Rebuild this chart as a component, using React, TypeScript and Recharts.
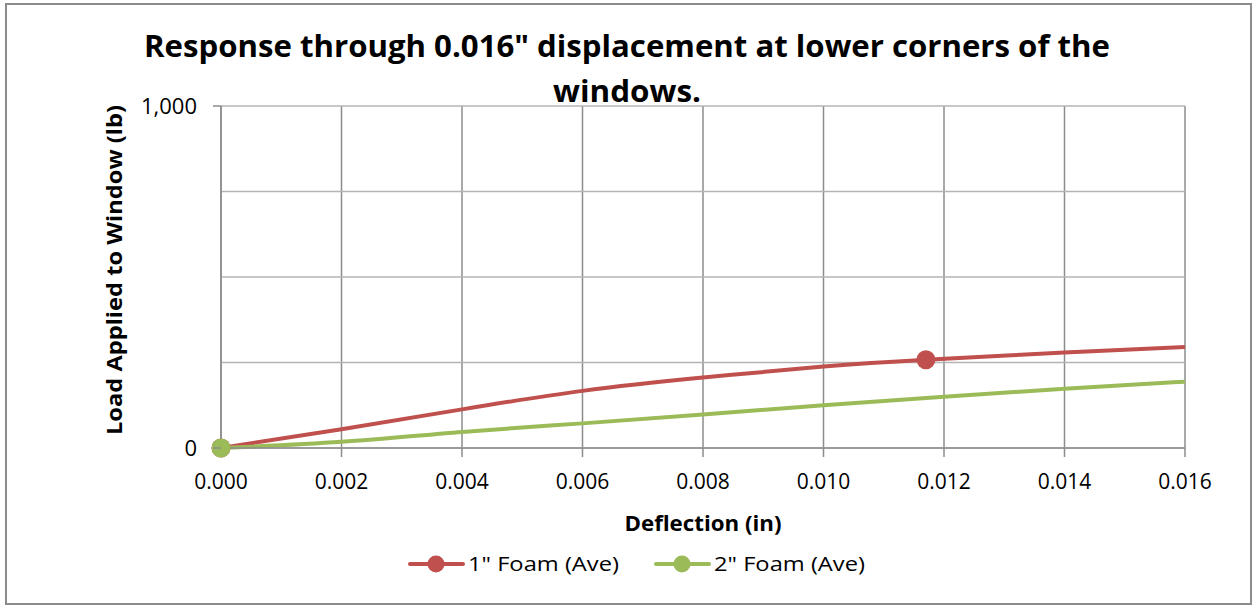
import React from "react";
import { CartesianGrid, Legend, Line, LineChart, XAxis, YAxis } from "recharts";

// deflection (in) values
const foam1X = [0, 0.002, 0.004, 0.006, 0.008, 0.01, 0.0117, 0.014, 0.016];
const foam1Load = [0, 55, 113, 167, 206, 238, 258, 279, 295];
const foam1Markers = [0, 0.0117];

const foam2X = [0, 0.002, 0.004, 0.006, 0.008, 0.01, 0.012, 0.014, 0.016];
const foam2Load = [0, 18, 47, 72, 98, 125, 150, 173, 194];
const foam2Markers = [0];

const xTicks = [0, 0.002, 0.004, 0.006, 0.008, 0.01, 0.012, 0.014, 0.016];
const yTicks = [0, 250, 500, 750, 1000];
const yLabelled = [0, 1000];

const RED = "#C0504D";
const GREEN = "#9BBB59";
const FONT = "'Open Sans', 'DejaVu Sans', sans-serif";

const build = (xs: number[], ys: number[], markers: number[]) =>
  xs.map((x, i) => ({ x, y: ys[i], marker: markers.includes(x) }));

const series = [
  { name: '1" Foam (Ave)', color: RED, data: build(foam1X, foam1Load, foam1Markers), textLen: 151 },
  { name: '2" Foam (Ave)', color: GREEN, data: build(foam2X, foam2Load, foam2Markers), textLen: 151 },
];

function markerDot(color: string) {
  return (props: any) => {
    const { cx, cy, payload, index } = props;
    if (!payload || !payload.marker) return <g key={`d-${index}`} />;
    return <circle key={`d-${index}`} cx={cx} cy={cy} r={9.5} fill={color} stroke="none" />;
  };
}

function YTick(props: any) {
  const { x, y, payload } = props;
  if (!yLabelled.includes(payload.value)) return <g />;
  return (
    <g>
      <line x1={x} x2={x + 8} y1={y} y2={y} stroke="#8c8c8c" strokeWidth={1.5} />
      <text x={x - 16} y={y} dy="0.35em" textAnchor="end" fontFamily={FONT} fontSize={22} fill="#000">
        {payload.value.toLocaleString("en-US")}
      </text>
    </g>
  );
}

function LegendBox() {
  return (
    <svg width={470} height={30} style={{ display: "block", margin: "0 auto" }}>
      {series.map((s, i) => {
        const x0 = i * 246;
        return (
          <g key={s.name}>
            <line x1={x0 + 2} x2={x0 + 55} y1={15} y2={15} stroke={s.color} strokeWidth={4} strokeLinecap="round" />
            <circle cx={x0 + 28} cy={15} r={8.5} fill={s.color} />
            <text x={x0 + 60} y={15} dy="0.35em" fontFamily={FONT} fontSize={20} textLength={s.textLen}
              lengthAdjust="spacingAndGlyphs" fill="#000">
              {s.name}
            </text>
          </g>
        );
      })}
    </svg>
  );
}

export default function App() {
  return (
    <div style={{ position: "relative", width: 1252, height: 605, background: "#fff" }}>
      <style>{`body{margin:0}`}</style>
      <div style={{ position: "absolute", left: 5, top: 3, width: 1243, height: 598, border: "2px solid #8c8c8c" }} />
      <LineChart width={1252} height={605} margin={{ top: 106, right: 67, bottom: 97, left: 100 }}>
        <CartesianGrid horizontal={false} stroke="#8c8c8c" strokeWidth={1.5} />
        <CartesianGrid vertical={false} stroke="#b4b4b4" strokeWidth={1.5} />
        <XAxis
          type="number"
          dataKey="x"
          domain={[0, 0.016]}
          ticks={xTicks}
          tickFormatter={(v: number) => v.toFixed(3)}
          tickSize={9}
          tickMargin={17}
          stroke="#8c8c8c"
          strokeWidth={1.5}
          tick={{ fontFamily: FONT, fontSize: 21, fill: "#000" }}
        />
        <YAxis
          type="number"
          domain={[0, 1000]}
          ticks={yTicks}
          width={121}
          tickLine={false}
          stroke="#8c8c8c"
          strokeWidth={1.5}
          tick={<YTick />}
        />
        <Legend verticalAlign="bottom" wrapperStyle={{ bottom: 26 }} content={() => <LegendBox />} />
        {series.map((s) => (
          <Line
            key={s.name}
            data={s.data}
            dataKey="y"
            name={s.name}
            type="natural"
            stroke={s.color}
            strokeWidth={4}
            dot={markerDot(s.color)}
            activeDot={false}
            isAnimationActive={false}
          />
        ))}
      </LineChart>
      <svg width={1252} height={605} style={{ position: "absolute", left: 0, top: 0, pointerEvents: "none" }}>
        <g fontFamily={FONT} fontWeight="bold" fill="#000">
          <text x={627} y={57} textAnchor="middle" fontSize={30} textLength={966} lengthAdjust="spacingAndGlyphs">
            Response through 0.016" displacement at lower corners of the
          </text>
          <text x={627} y={102} textAnchor="middle" fontSize={30} textLength={148} lengthAdjust="spacingAndGlyphs">
            windows.
          </text>
          <text x={703} y={531} textAnchor="middle" fontSize={21} textLength={157} lengthAdjust="spacingAndGlyphs">
            Deflection (in)
          </text>
          <text
            x={0}
            y={0}
            transform="translate(122 270) rotate(-90)"
            textAnchor="middle"
            fontSize={21}
            textLength={330}
            lengthAdjust="spacingAndGlyphs"
          >
            Load Applied to Window (lb)
          </text>
        </g>
      </svg>
    </div>
  );
}
